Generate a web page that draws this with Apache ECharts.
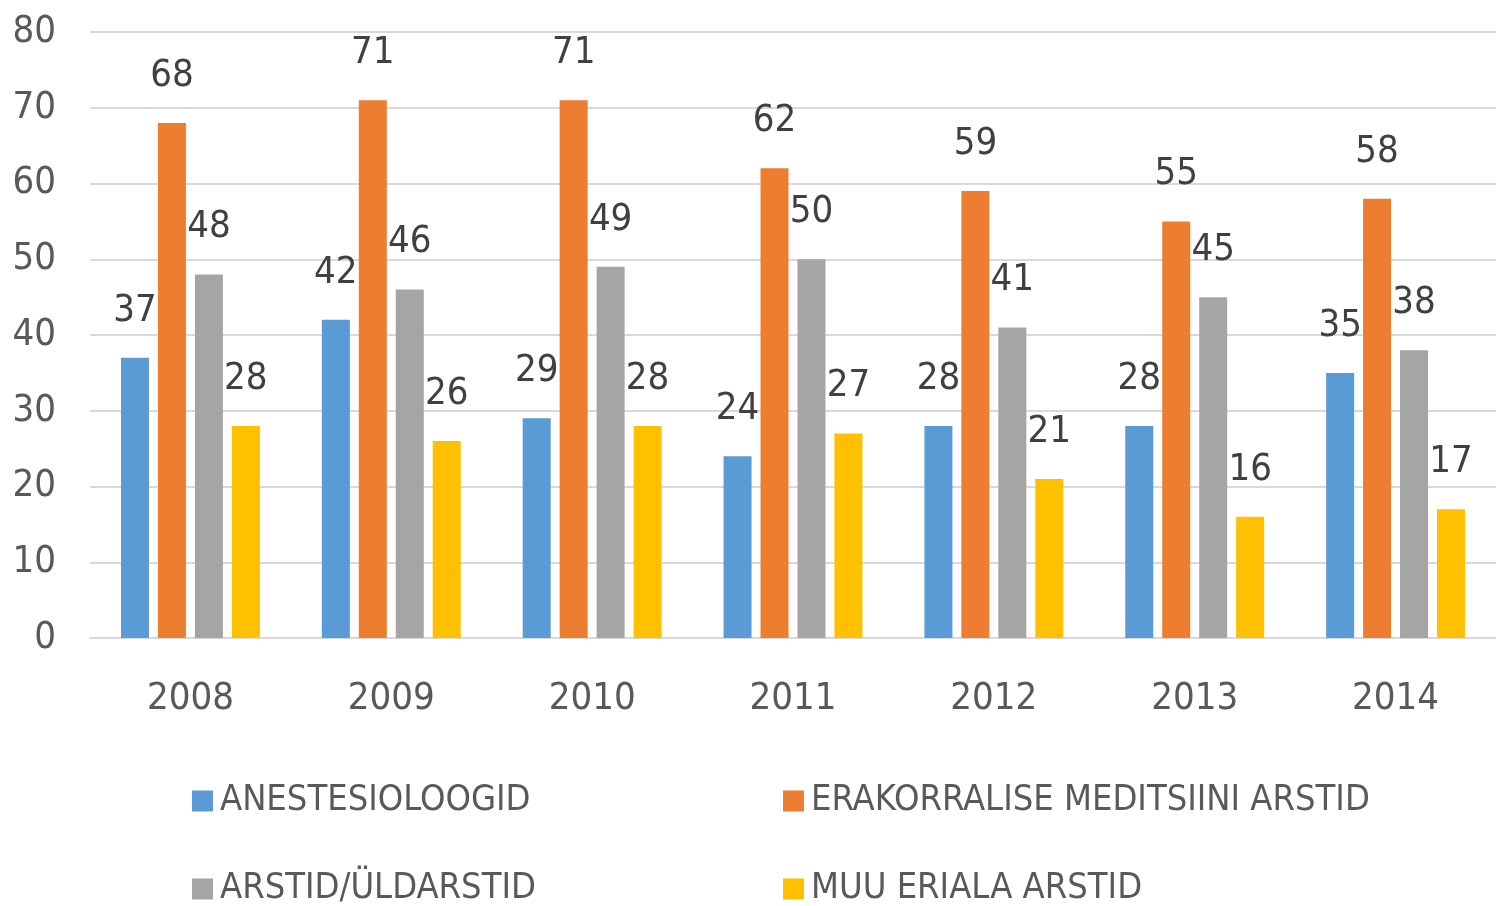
<!DOCTYPE html>
<html><head><meta charset="utf-8">
<script src="https://cdn.jsdelivr.net/npm/echarts@6/dist/echarts.min.js"></script>
<style>html,body{margin:0;padding:0;background:#fff}#c{width:1496px;height:906px}</style>
</head><body><div id="c"></div>
<script>
var categories = ['2008','2009','2010','2011','2012','2013','2014'];
var seriesNames = ['ANESTESIOLOOGID','ERAKORRALISE MEDITSIINI ARSTID','ARSTID/ÜLDARSTID','MUU ERIALA ARSTID'];
var anestesioloogid = [37,42,29,24,28,28,35];
var erakorralise = [68,71,71,62,59,55,58];
var arstid = [48,46,49,50,41,45,38];
var muu = [28,26,28,27,21,16,17];
var yTicks = {min:0, max:80, interval:10};
var colors = ['#5B9BD5','#ED7D31','#A5A5A5','#FFC000'];
var FONT = '"Liberation Sans Narrow","DejaVu Sans Condensed","Roboto Condensed",sans-serif';
var values = [anestesioloogid, erakorralise, arstid, muu];
var legendPos = [[187,778],[778,778],[187,866],[778,866]];
var chart = echarts.init(document.getElementById('c'));
function mkLegend(i){
  return {left:legendPos[i][0], top:legendPos[i][1], data:[seriesNames[i]],
    itemWidth:21, itemHeight:21, icon:'rect', selectedMode:false,
    textStyle:{fontFamily:FONT, fontSize:36, color:'#595959', padding:[0,0,0,2]}};
}
chart.setOption({
  animation:false,
  color: colors,
  grid:{left:90, right:0, top:32, bottom:268},
  legend:[mkLegend(0), mkLegend(1), mkLegend(2), mkLegend(3)],
  xAxis:{type:'category', data:categories,
    axisLine:{lineStyle:{color:'#d9d9d9', width:2}}, axisTick:{show:false},
    axisLabel:{fontFamily:FONT, fontSize:38, color:'#595959', margin:42}},
  yAxis:{type:'value', min:yTicks.min, max:yTicks.max, interval:yTicks.interval,
    axisLine:{show:false}, axisTick:{show:false},
    splitLine:{lineStyle:{color:'#d9d9d9', width:2}},
    axisLabel:{fontFamily:FONT, fontSize:38, color:'#595959', margin:34}},
  series: values.map(function(v,i){return {
    name:seriesNames[i], type:'bar', data:v, barWidth:28, barGap:'32%',
    label:{show:true, position:'top', distance:28, fontFamily:FONT, fontSize:38, color:'#404040'}
  };})
});
</script></body></html>
